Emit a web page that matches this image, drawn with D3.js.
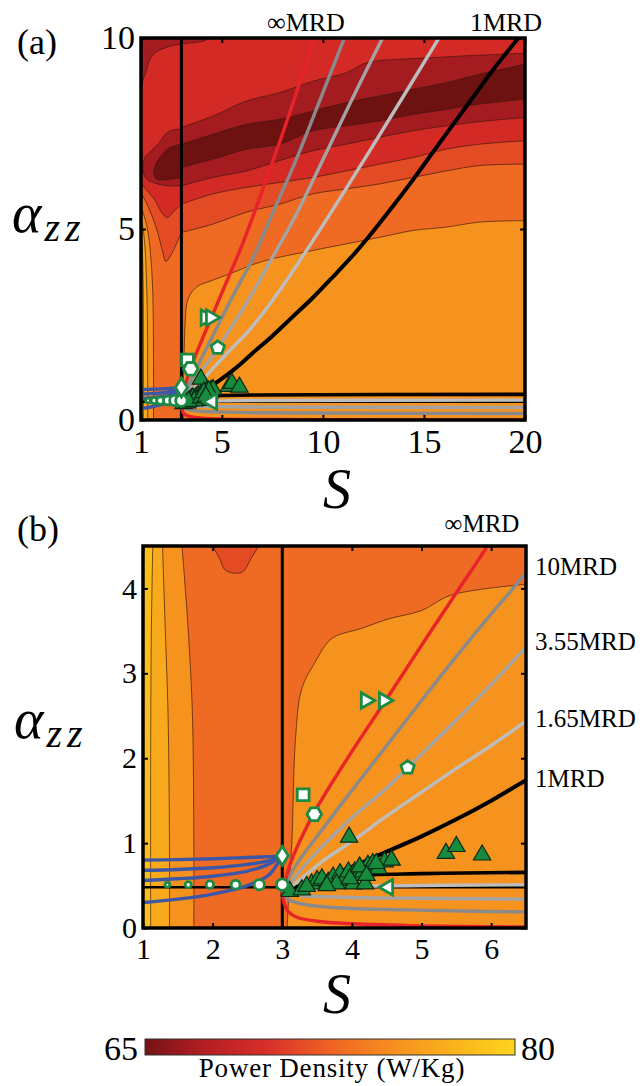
<!DOCTYPE html>
<html><head><meta charset="utf-8">
<script src="https://cdn.jsdelivr.net/npm/d3@7"></script>
<style>html,body{margin:0;padding:0;background:#fff;}svg{display:block;}
svg text{font-family:'Liberation Serif','Times New Roman',serif;}</style>
</head><body>
<svg id="chart" width="640" height="1086"></svg>
<script>
// ================= DATA =================
// Power-density field, panel (a): contour boundaries [S, alpha_zz]
const aCap   = [[1,8.6],[1.08,8.86],[1.25,9.12],[1.58,9.56],[2.4,9.78],[2.98,9.84],[4.08,9.92],[4.4,10]];
const aR1 = [[3,7.66],[4.57,7.96],[6.22,8.35],[7.86,8.57],[9.51,8.87],[11.15,9.09],[12.14,9.35],[13.62,9.44],[15.26,9.48],[16.91,9.53],[20,9.6]];
const aR2 = [[3,7.22],[4.57,7.48],[6.22,7.74],[7.86,7.87],[9.51,8.09],[11.15,8.31],[12.8,8.48],[14.45,8.66],[16.1,8.83],[17.75,9.05],[20,9.31]];
const aR3 = [[3,6.61],[4.57,6.83],[6.22,7.09],[7.86,7.22],[9.51,7.57],[11.15,7.7],[12.8,7.83],[14.45,8.0],[16.1,8.13],[17.75,8.27],[20,8.4]];
const aR4 = [[3,6.13],[4.57,6.35],[6.22,6.52],[7.86,6.79],[9.51,7.05],[11.15,7.22],[12.8,7.4],[14.45,7.57],[16.1,7.7],[17.75,7.81],[20,7.92]];
const aR5 = [[3,5.65],[4.57,5.92],[6.22,6.09],[7.86,6.22],[9.51,6.35],[11.15,6.52],[12.8,6.7],[14.45,6.87],[16.1,7.09],[17.75,7.22],[20,7.31]];
const aR6 = [[3,4.91],[4.57,5.13],[6.22,5.44],[7.86,5.65],[9.51,5.92],[11.15,6.05],[12.8,6.18],[14.45,6.35],[16.1,6.52],[17.75,6.66],[20,6.7]];
const aR7 = [[3.09,0],[3.1,1.0],[3.14,1.9],[3.19,2.6],[3.27,3.05],[3.45,3.3],[3.8,3.5],[4.5,3.65],[5.5,3.85],[7.0,4.15],[9.51,4.44],[11.15,4.61],[12.8,4.78],[14.45,4.96],[16.1,5.05],[17.75,5.18],[20,5.22]];
const aL5 = [[3,5.65],[2.6,5.45],[2.3,5.3],[2.0,5.45],[1.7,5.75],[1.4,5.95],[1.15,6.1],[1,6.2]];
const aL6 = [[3,4.91],[2.7,4.55],[2.4,4.25],[2.23,4.15],[2.05,4.45],[1.8,4.95],[1.5,5.4],[1.25,5.7],[1,5.95]];
const aL7 = [[1.62,0],[1.62,1],[1.61,2.5],[1.57,3.5],[1.48,4.3],[1.32,5.0],[1.12,5.4],[1,5.6]];
const aL8 = [[1.33,0],[1.33,1],[1.32,2.5],[1.28,3.5],[1.2,4.5],[1.08,5.1],[1,5.3]];
const aL9 = [[1.12,0],[1.12,2],[1.11,3.5],[1.06,4.5],[1,4.9]];
const aBlobOuter = [[3,7.62],[2.5,7.58],[2.2,7.48],[1.9,7.25],[1.5,7.05],[1.2,6.88],[1.1,6.65],[1.15,6.42],[1.35,6.28],[1.8,6.18],[2.4,6.13],[3,6.13]];
const aBlobInner = [[3,7.22],[2.4,7.12],[1.9,6.85],[1.68,6.62],[1.64,6.45],[1.78,6.3],[2.4,6.3],[3,6.35]];

// Power-density field, panel (b)
const bBlob = [[2.0,4.5],[2.1,4.35],[2.19,4.21],[2.42,4.19],[2.55,4.35],[2.66,4.5]];
const bL7 = [[1.73,0],[1.73,1],[1.71,2.5],[1.65,3.5],[1.56,4.5]];
const bL8 = [[1.38,0],[1.38,1],[1.36,2.5],[1.32,3.5],[1.28,4.5]];
const bL9 = [[1.11,0],[1.11,2],[1.12,3.5],[1.14,4.5]];
const bR7 = [[3.07,0],[3.1,0.5],[3.14,1.06],[3.19,2.23],[3.28,2.82],[3.47,3.13],[3.71,3.41],[4.14,3.53],[4.52,3.64],[5.0,3.74],[5.42,3.92],[6.5,4.05]];

// contour levels (W/Kg) of each band
const levelsA = {cap:67, r:[67,65.5,67,69,70.5,72,74], l5:70.5, l6:72, l7:74, l8:76, l9:78, outer:67, inner:65.5, bg:69};
const levelsB = {blob:70.5, l7:74, l8:76, l9:78, r7:74, bg:72};

// constant-MRD curves [S, alpha_zz]
const mrdInfUp = [[3,0.4],[3.1,0.72],[3.25,1.02],[3.5,1.42],[4,2.08],[4.5,2.7],[5,3.33],[5.5,3.95],[5.92,4.47],[7,6.0],[8.3,7.95],[9.59,10.05]];
const mrd10Up  = [[3,0.4],[3.15,0.68],[3.5,1.08],[4,1.62],[4.5,2.15],[5,2.68],[5.5,3.2],[6,3.7],[6.5,4.19],[7.5,5.4],[8.6,6.72],[9.8,8.3],[11.1,10.05]];
const mrd355Up = [[3,0.4],[3.2,0.62],[3.5,0.9],[4,1.3],[4.5,1.65],[4.8,1.89],[5.5,2.45],[6,2.87],[6.5,3.31],[7.5,4.25],[8.7,5.4],[9.9,6.7],[11.4,8.35],[13,10.05]];
const mrd165Up = [[3,0.4],[3.3,0.6],[3.6,0.8],[4,1.02],[4.5,1.32],[5,1.6],[5.5,1.88],[6,2.15],[6.5,2.44],[7.86,3.39],[10,5.1],[12.5,7.2],[15.8,10.05]];
const mrd1Up   = [[3,0.4],[3.5,0.56],[4,0.72],[4.5,0.9],[5,1.08],[5.5,1.28],[6,1.5],[6.5,1.74],[7.5,2.2],[8.5,2.7],[9.5,3.2],[10.5,3.75],[11.5,4.32],[12.5,4.95],[13.5,5.62],[14.5,6.32],[15.5,7.05],[16.5,7.78],[17.5,8.5],[18.5,9.22],[19.75,10.05]];
const mrdInfLow = [[3,0.4],[3.03,0.28],[3.08,0.2],[3.2,0.13],[3.5,0.08],[4,0.05],[5,0.025],[6.5,0.012],[20,0.0]];
const mrd10Low  = [[3,0.4],[3.1,0.33],[3.3,0.28],[3.6,0.25],[4,0.23],[5,0.21],[6.5,0.19],[20,0.17]];
const mrd355Low = [[3,0.4],[3.3,0.38],[4,0.36],[5,0.35],[6.5,0.34],[20,0.33]];
const mrd165Low = [[3,0.4],[3.3,0.45],[3.6,0.47],[4,0.49],[5,0.5],[6.5,0.51],[20,0.52]];
const mrd1Low   = [[3,0.4],[3.3,0.52],[3.6,0.59],[4,0.62],[5,0.64],[6.5,0.655],[20,0.67]];
const sDivide = 3;        // vertical boundary S = 3
const alphaFlat = 0.48;   // horizontal boundary alpha_zz

// blue curves for S < 3
const blue1 = [[1,0.8],[1.5,0.805],[2,0.815],[2.5,0.83],[2.8,0.84],[3,0.85]];
const blue2 = [[1,0.68],[1.5,0.69],[2,0.71],[2.5,0.75],[2.8,0.79],[3,0.85]];
const blue3 = [[1,0.56],[1.5,0.58],[2,0.61],[2.5,0.67],[2.8,0.75],[2.95,0.82],[3,0.85]];
const blue4 = [[1,0.3],[1.5,0.34],[2,0.4],[2.5,0.5],[2.8,0.62],[2.95,0.78],[3,0.85]];

// markers
const triS = [3.96,5.35,5.5,5.87,3.11,3.28,3.42,3.5,3.57,3.66,3.73,3.83,3.88,3.95,4.02,4.04,4.09,4.16,4.19,4.23,4.3,4.38,4.47,4.57,3.78,3.64,3.35,3.97,4.11,4.35,4.21];
const triA = [1.07,0.88,0.96,0.86,0.43,0.45,0.52,0.56,0.58,0.54,0.6,0.64,0.56,0.66,0.52,0.66,0.62,0.66,0.52,0.74,0.76,0.7,0.78,0.8,0.52,0.5,0.49,0.58,0.72,0.76,0.62];
const circS = [1.35,1.65,1.96,2.33,2.67,3.0];
const circA = [0.51,0.51,0.51,0.51,0.51,0.51];
const circW = [1,2,3,4,5,6];
const diamondPt = [3.0,0.85];
const squarePt = [3.3,1.57];
const hexagonPt = [3.46,1.34];
const pentagonPt = [4.8,1.89];
const rightTriPts = [[4.2,2.68],[4.46,2.68]];
const leftTriPt = [4.52,0.48];

// ticks / labels
const aXTicks = [1,5,10,15,20], aYTicks = [0,5,10];
const bXTicks = [1,2,3,4,5,6],  bYTicks = [0,1,2,3,4];
const cbRange = [65,80];
const bRightLabels = ["10MRD","3.55MRD","1.65MRD","1MRD"];

// ================= STYLE =================
const SERIF = "Liberation Serif";
const bandFill = d3.scaleOrdinal([65.5,67,69,70.5,72,74,76,78],
  ['#6e1111','#a41c20','#d32a26','#e24b24','#ef6a22','#f6921e','#f9aa1c','#fbbe1b']);
const cbColor = d3.scaleLinear([65,67.5,70,72.5,75,77.5,80],
  ['#741315','#b61e24','#d8302a','#ee6323','#f68e1f','#f9b21c','#fdd51c']);
const C = {red:'#e8232a', g10:'#8a8a8a', g355:'#a3a3a3', g165:'#bdbdbd', blue:'#3d57a7',
  triFill:'#178a3d', triStroke:'#0b2a14', mk:'#1d8a44'};

const svg = d3.select('#chart');
const defs = svg.append('defs');

function polyPath(n, r, rot){
  const pts = d3.range(n).map(i => { const a = rot + i*2*Math.PI/n; return [r*Math.cos(a), r*Math.sin(a)]; });
  return 'M' + pts.map(p=>p.join(',')).join('L') + 'Z';
}

function drawPanel(p){
  const x = p.x, y = p.y;
  const g = svg.append('g');
  const X0 = x(1), X1 = x(p.smax), Y0 = y(0), Y1 = y(p.amax), XD = x(sDivide);
  const mk = (id, x0, w) => defs.append('clipPath').attr('id', p.id+id)
      .append('rect').attr('x', x0).attr('y', Y1).attr('width', w).attr('height', Y0-Y1);
  mk('all', X0, X1-X0); mk('L', X0, XD-X0); mk('R', XD, X1-XD);

  const cl = d3.line().x(d=>x(d[0])).y(d=>y(d[1])).curve(d3.curveCatmullRom.alpha(0.5));
  g.append('rect').attr('x',X0).attr('y',Y1).attr('width',XD-X0).attr('height',Y0-Y1).attr('fill',bandFill(p.bgL));
  g.append('rect').attr('x',XD).attr('y',Y1).attr('width',X1-XD).attr('height',Y0-Y1).attr('fill',bandFill(p.bgR));
  p.bands.forEach(b => {
    const f = b.pts[0], l = b.pts[b.pts.length-1];
    let extra = [];
    if (b.close==='below') extra = [[l[0],-1],[f[0],-1]];
    if (b.close==='above') extra = [[l[0],p.amax+1],[f[0],p.amax+1]];
    if (b.close==='left')  extra = [[0,l[1]],[0,f[1]]];
    const d = cl(b.pts) + extra.map(e=>'L'+x(e[0])+','+y(e[1])).join('') + 'Z';
    g.append('path').attr('d', d).attr('fill', bandFill(b.level)).attr('clip-path', `url(#${p.id}${b.side})`);
  });
  p.bands.forEach(b => {
    g.append('path').attr('d', cl(b.pts) + (b.close==='closed'?'Z':''))
      .attr('fill','none').attr('stroke','#3a1a0e').attr('stroke-opacity',0.75).attr('stroke-width',0.9)
      .attr('clip-path', `url(#${p.id}${b.side})`);
  });
  const lg = g.append('g').attr('clip-path', `url(#${p.id}all)`);
  const ln = d3.line().x(d=>x(d[0])).y(d=>y(d[1])).curve(d3.curveCatmullRom.alpha(0.5));
  const drawLine = (pts, col, w) => lg.append('path').attr('d', ln(pts)).attr('fill','none')
      .attr('stroke', col).attr('stroke-width', w).attr('stroke-linecap','round');
  lg.append('line').attr('x1',XD).attr('x2',XD).attr('y1',Y0).attr('y2',Y1).attr('stroke','#000').attr('stroke-width',3);
  lg.append('line').attr('x1',X0).attr('x2',X1).attr('y1',y(alphaFlat)).attr('y2',y(alphaFlat)).attr('stroke','#000').attr('stroke-width',2.5);
  [blue1,blue2,blue3,blue4].forEach(b => drawLine(b, C.blue, 3.4));
  drawLine(mrd10Low, C.g10, 3.4);
  drawLine(mrd355Low, C.g355, 3.4);
  drawLine(mrd165Low, C.g165, 3.4);
  drawLine(mrd1Low, '#000', 3.6);
  drawLine(mrdInfLow, C.red, 3.4);
  drawLine(mrd165Up, C.g165, 3.4);
  drawLine(mrd355Up, C.g355, 3.4);
  drawLine(mrd10Up, C.g10, 3.4);
  drawLine(mrd1Up, '#000', 4);
  drawLine(mrdInfUp, C.red, 3.4);

  const mg = g.append('g');
  const tri = d3.symbol(d3.symbolTriangle, 130)();
  triS.forEach((s,i) => mg.append('path').attr('d', tri)
     .attr('transform', `translate(${x(s)},${y(triA[i])})`)
     .attr('fill', C.triFill).attr('stroke', C.triStroke).attr('stroke-width',1.2));
  const wsty = sel => sel.attr('fill','#fff').attr('stroke',C.mk).attr('stroke-width',2.8);
  const rScale = d3.scaleLinear(d3.extent(circW), [2.4,5.8]);
  circS.forEach((s,i) => wsty(mg.append('circle').attr('cx', x(s)).attr('cy', y(circA[i])).attr('r', rScale(circW[i]))));
  wsty(mg.append('path').attr('d','M0,-9.5L6,0L0,9.5L-6,0Z').attr('transform',`translate(${x(diamondPt[0])},${y(diamondPt[1])})`));
  wsty(mg.append('path').attr('d', d3.symbol(d3.symbolSquare, 140)()).attr('transform',`translate(${x(squarePt[0])},${y(squarePt[1])})`));
  wsty(mg.append('path').attr('d', polyPath(6, 7.3, 0)).attr('transform',`translate(${x(hexagonPt[0])},${y(hexagonPt[1])})`));
  wsty(mg.append('path').attr('d', polyPath(5, 7, -Math.PI/2)).attr('transform',`translate(${x(pentagonPt[0])},${y(pentagonPt[1])})`));
  const tri2 = d3.symbol(d3.symbolTriangle, 105)();
  rightTriPts.forEach(pt => wsty(mg.append('path').attr('d', tri2).attr('transform',`translate(${x(pt[0])},${y(pt[1])}) rotate(90)`)));
  wsty(mg.append('path').attr('d', tri2).attr('transform',`translate(${x(leftTriPt[0])},${y(leftTriPt[1])}) rotate(-90)`));

  const style = (ax, fs) => { ax.select('.domain').remove(); ax.attr('font-family', SERIF);
    ax.selectAll('.tick line').attr('stroke','#000').attr('stroke-width',2);
    ax.selectAll('.tick text').attr('font-size',fs).attr('fill','#000'); };
  style(svg.append('g').attr('transform',`translate(0,${Y0})`)
     .call(d3.axisBottom(x).tickValues(p.xTicks).tickSize(-5).tickPadding(p.xPad).tickFormat(d3.format('d'))), p.fs);
  style(svg.append('g').attr('transform',`translate(${X0},0)`)
     .call(d3.axisLeft(y).tickValues(p.yTicks).tickSize(-5).tickPadding(6).tickFormat(d3.format('d'))), p.fs);
  style(svg.append('g').attr('transform',`translate(0,${Y1})`)
     .call(d3.axisTop(x).tickValues(p.xTicks).tickSize(-5).tickFormat('')), p.fs);
  style(svg.append('g').attr('transform',`translate(${X1},0)`)
     .call(d3.axisRight(y).tickValues(p.yTicks).tickSize(-5).tickFormat('')), p.fs);
  svg.append('rect').attr('x',X0).attr('y',Y1).attr('width',X1-X0).attr('height',Y0-Y1)
     .attr('fill','none').attr('stroke','#000').attr('stroke-width',3.5);
}

// ---------- panel (a) ----------
const xa = d3.scaleLinear([1,20],[141,525]);
const ya = d3.scaleLinear([0,10],[420,38]);
drawPanel({id:'pa', x:xa, y:ya, smax:20, amax:10, bgL:levelsA.bg, bgR:levelsA.bg,
  xTicks:aXTicks, yTicks:aYTicks, fs:34, xPad:9,
  bands:[
    {pts:aCap, level:levelsA.cap, close:'above', side:'all'},
    ...[aR1,aR2,aR3,aR4,aR5,aR6,aR7].map((pts,i)=>({pts, level:levelsA.r[i], close:'below', side:'R'})),
    {pts:aL5, level:levelsA.l5, close:'below', side:'L'},
    {pts:aL6, level:levelsA.l6, close:'below', side:'L'},
    {pts:aL7, level:levelsA.l7, close:'left', side:'L'},
    {pts:aL8, level:levelsA.l8, close:'left', side:'L'},
    {pts:aL9, level:levelsA.l9, close:'left', side:'L'},
    {pts:aBlobOuter, level:levelsA.outer, close:'closed', side:'L'},
    {pts:aBlobInner, level:levelsA.inner, close:'closed', side:'L'}
  ]});

// ---------- panel (b) ----------
const xb = d3.scaleLinear([1,6.5],[143,526]);
const yb = d3.scaleLinear([0,4.5],[928,546]);
drawPanel({id:'pb', x:xb, y:yb, smax:6.5, amax:4.5, bgL:levelsB.bg, bgR:levelsB.bg,
  xTicks:bXTicks, yTicks:bYTicks, fs:30, xPad:10,
  bands:[
    {pts:bBlob, level:levelsB.blob, close:'above', side:'L'},
    {pts:bL7, level:levelsB.l7, close:'left', side:'L'},
    {pts:bL8, level:levelsB.l8, close:'left', side:'L'},
    {pts:bL9, level:levelsB.l9, close:'left', side:'L'},
    {pts:bR7, level:levelsB.r7, close:'below', side:'R'}
  ]});

// ---------- text ----------
const T = (x, y, s, fs, anchor, extra) => { const t = svg.append('text').attr('x',x).attr('y',y)
   .attr('font-family',SERIF).attr('font-size',fs).attr('text-anchor',anchor||'start').attr('fill','#000').text(s);
   if (extra) extra(t); return t; };
T(17, 54, '(a)', 36);
T(17, 541, '(b)', 36);
T(306, 31, '\u221EMRD', 26, 'middle');
T(506, 31, '1MRD', 26, 'middle');
T(482, 532, '\u221EMRD', 25, 'middle');
[575, 650, 727, 787].forEach((yy,i) => T(535, yy, bRightLabels[i], 25));
const italic = t => t.attr('font-style','italic');
T(337, 508, 'S', 56, 'middle', italic);
T(337, 1013, 'S', 56, 'middle', italic);
function alphaLabel(x0, y0){
  const t = svg.append('text').attr('x',x0).attr('y',y0).attr('font-family',SERIF).attr('font-style','italic').attr('fill','#000');
  t.append('tspan').attr('font-size',56).text('\u03B1');
  t.append('tspan').attr('font-size',40).attr('dy',9).attr('dx',3).attr('letter-spacing',5).text('zz');
}
alphaLabel(12, 232);
alphaLabel(14, 738);

// ---------- colorbar ----------
const cbx = d3.scaleLinear(cbRange, [145,515]);
const grad = defs.append('linearGradient').attr('id','cbgrad');
cbColor.domain().forEach(v => grad.append('stop').attr('offset', (v-cbRange[0])/(cbRange[1]-cbRange[0])).attr('stop-color', cbColor(v)));
svg.append('rect').attr('x',cbx(65)).attr('y',1039).attr('width',cbx(80)-cbx(65)).attr('height',16)
   .attr('fill','url(#cbgrad)').attr('stroke','#333').attr('stroke-width',1);
T(cbx(cbRange[0])-7, 1060, String(cbRange[0]), 34, 'end');
T(cbx(cbRange[1])+6, 1060, String(cbRange[1]), 34, 'start');
T(332, 1077, 'Power Density (W/Kg)', 27, 'middle', t=>t.attr('letter-spacing',0.8));
</script>
</body></html>
